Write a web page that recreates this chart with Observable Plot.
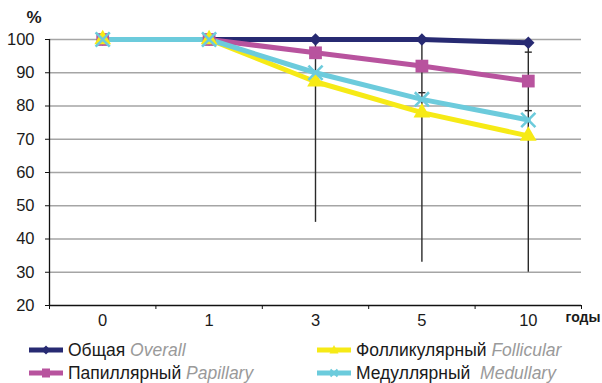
<!DOCTYPE html>
<html>
<head>
<meta charset="utf-8">
<script src="https://cdn.jsdelivr.net/npm/d3@7"></script>
<script src="https://cdn.jsdelivr.net/npm/@observablehq/plot@0.6"></script>
<style>
  body { margin: 0; background: #fff; font-family: "Liberation Sans", Arial, sans-serif; }
  #wrap { position: relative; width: 602px; height: 383px; }
  #chart svg { display: block; }
  .legend-item { position: absolute; display: flex; align-items: center; font-size: 17.5px; color: #1a1a1a; white-space: nowrap; }
  .legend-item svg { margin-right: 5px; }
  .legend-item em { color: #9a9a9a; font-style: italic; }
</style>
</head>
<body>
<div id="wrap">
  <div id="chart"></div>
</div>
<script>
// Survival by years after diagnosis, %
const years = ["0", "1", "3", "5", "10"];
const overall    = [100, 100, 100, 100, 99];
const papillary  = [100, 100, 96, 92, 87.5];
const follicular = [100, 100, 87.3, 78, 71];
const medullary  = [100, 100, 90, 82, 75.8];

// Confidence interval whiskers
const barTop    = [null, null, 100, 100, 100];
const barBottom = [null, null, 45, 33, 30];
const capLow    = [null, null, null, 84, 78.6];
const capHigh   = [null, null, null, null, 96.2];

const yTicks = [20, 30, 40, 50, 60, 70, 80, 90, 100];

const seriesNames = ["Общая", "Папиллярный", "Фолликулярный", "Медуллярный"];
const seriesEn = ["Overall", "Papillary", "Follicular", "Medullary"];
const seriesValues = [overall, papillary, follicular, medullary];
const seriesColors = ["#272a72", "#b8539e", "#f6ea16", "#6ccbdc"];
const seriesSymbols = ["diamond2", "square", "triangle", "times"];
const seriesR = [5.6, 7.2, 6.2, 6.5];

const rows = seriesValues.map((vals, s) => vals.map((v, i) => ({i, v, s})));
const errRows = barTop.map((hi, i) => ({i, hi, lo: barBottom[i]})).filter(d => d.hi != null);
const capRows = [
  ...capLow.map((v, i) => ({i, v})),
  ...capHigh.map((v, i) => ({i, v}))
].filter(d => d.v != null);

const capSymbol = {
  draw(ctx, size) {
    const w = Math.sqrt(size);
    ctx.moveTo(-w / 2, 0);
    ctx.lineTo(w / 2, 0);
  }
};

const lineMarks = rows.map((r, s) =>
  Plot.line(r, {x: "i", y: "v", stroke: seriesColors[s], strokeWidth: 5, strokeLinejoin: "round"}));
const dotMarks = rows.map((r, s) =>
  seriesSymbols[s] === "times"
    ? Plot.dot(r, {x: "i", y: "v", symbol: "times", r: seriesR[s], stroke: seriesColors[s], strokeWidth: 2.6, fill: "none"})
    : Plot.dot(r, {x: "i", y: "v", symbol: seriesSymbols[s], r: seriesR[s], fill: seriesColors[s], stroke: "none"}));

const chart = Plot.plot({
  width: 602,
  height: 336,
  marginLeft: 49,
  marginRight: 21,
  marginTop: 39,
  marginBottom: 31,
  x: {type: "linear", domain: [-0.5, 4.5]},
  y: {domain: [20, 100]},
  style: {fontFamily: "'Liberation Sans', Arial, sans-serif", fontSize: "16.5px", color: "#1a1a1a", background: "#fff"},
  marks: [
    Plot.ruleY(yTicks.filter(t => t > 20), {stroke: "#a5a5a5", strokeWidth: 1.3}),
    Plot.ruleX(errRows, {x: "i", y1: "lo", y2: "hi", stroke: "#2a2a2a", strokeWidth: 1.4}),
    Plot.dot(capRows, {x: "i", y: "v", symbol: capSymbol, r: 4, stroke: "#2a2a2a", strokeWidth: 1.4}),
    Plot.ruleY([20], {stroke: "#111", strokeWidth: 1.3}),
    Plot.ruleX([-0.5], {y1: 20, y2: 100, stroke: "#111", strokeWidth: 1.3}),
    Plot.axisY(yTicks, {anchor: "left", tickSize: 4, tickPadding: 11, label: null, stroke: "#111"}),
    Plot.axisX([-0.5, 0.5, 1.5, 2.5, 3.5, 4.5], {tickSize: 4, tickFormat: () => "", label: null, stroke: "#111"}),
    Plot.axisX([0, 1, 2, 3, 4], {tickSize: 0, tickPadding: 9, tickFormat: i => years[i], label: null}),
    Plot.text(["%"], {frameAnchor: "top-left", lineAnchor: "middle", dx: -23, dy: -22, fontWeight: "bold", fontSize: 17}),
    Plot.text(["годы"], {frameAnchor: "bottom-right", textAnchor: "start", dx: -16, dy: 16, fontWeight: "bold", fontSize: 14}),
    ...lineMarks,
    ...dotMarks
  ]
});
document.getElementById("chart").appendChild(chart);

// Legend: two columns under the chart
const legendPos = [[29, 350], [29, 373], [317, 350], [317, 373]];
const symPath = {
  diamond2: "M17,-4.5L21.5,0L17,4.5L12.5,0Z",
  square: "M13,-4.5H21V4.5H13Z",
  triangle: "M17,-5L21.5,3.5H12.5Z",
  times: "M13.5,-3.5L20.5,3.5M13.5,3.5L20.5,-3.5"
};
const wrap = document.getElementById("wrap");
seriesNames.forEach((name, s) => {
  const [x, y] = legendPos[s];
  const item = document.createElement("div");
  item.className = "legend-item";
  item.style.left = x + "px";
  item.style.top = (y - 10) + "px";
  item.style.height = "20px";
  const sym = seriesSymbols[s];
  const mark = sym === "times"
    ? `<path d="${symPath[sym]}" stroke="${seriesColors[s]}" stroke-width="2" fill="none" transform="translate(0,10)"/>`
    : `<path d="${symPath[sym]}" fill="${seriesColors[s]}" transform="translate(0,10)"/>`;
  item.innerHTML =
    `<svg width="34" height="20"><line x1="0" x2="34" y1="10" y2="10" stroke="${seriesColors[s]}" stroke-width="5"/>${mark}</svg>` +
    `<span>${name}&nbsp;${s === 3 ? "&nbsp;" : ""}<em>${seriesEn[s]}</em></span>`;
  wrap.appendChild(item);
});
</script>
</body>
</html>
